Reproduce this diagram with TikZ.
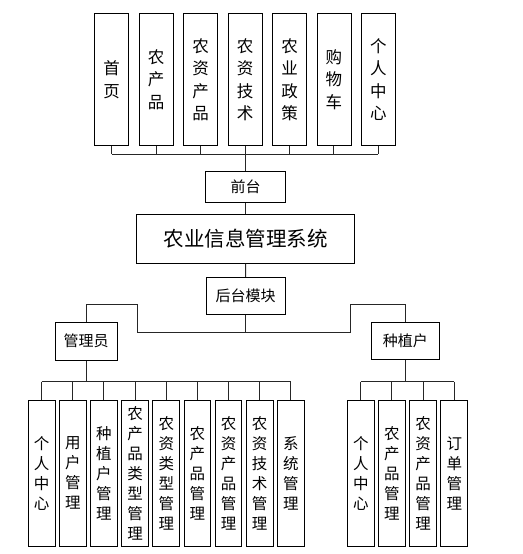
\documentclass[tikz,border=0pt]{standalone}
\usepackage{fontspec}
\setmainfont{Noto Sans CJK SC}
\begin{document}
\begin{tikzpicture}[x=1pt,y=-1pt,
  box/.style={draw=black,line width=0.9pt,inner sep=0pt,align=center,fill=white},
  topbox/.style={box,minimum width=34pt,minimum height=132.5pt,font=\fontsize{16.5}{22.5}\selectfont},
  lowbox/.style={box,minimum width=26.7pt,minimum height=146.7pt,font=\fontsize{15.5}{20}\selectfont},
  midbox/.style={box,font=\fontsize{15}{18}\selectfont},
  conn/.style={draw=black!85,line width=1pt}]
\useasboundingbox (0,0) rectangle (522,554);
% top row
\foreach \n/\t [count=\i from 0] in {t1/首\\页,t2/农\\产\\品,t3/农\\资\\产\\品,t4/农\\资\\技\\术,t5/农\\业\\政\\策,t6/购\\物\\车,t7/个\\人\\中\\心}
  \node[topbox] (\n) at ({111.7+44.45*\i},79.5) {\t};
\node[midbox,minimum width=79.6pt,minimum height=31pt] (front) at (245.5,186.8) {前台};
\node[box,minimum width=217.6pt,minimum height=48.6pt,font=\fontsize{20.5}{24}\selectfont] (sys) at (245.5,239) {农业信息管理系统};
\node[midbox,minimum width=79.3pt,minimum height=37pt] (back) at (245.6,295.8) {后台模块};
\node[midbox,minimum width=62.3pt,minimum height=37.7pt] (admin) at (86.2,341.2) {管理员};
\node[midbox,minimum width=67.3pt,minimum height=37pt] (farmer) at (405.4,340.8) {种植户};
% admin children
\foreach \n/\t [count=\i from 0] in {a1/个\\人\\中\\心,a2/用\\户\\管\\理,a3/种\\植\\户\\管\\理,a4/农\\产\\品\\类\\型\\管\\理,a5/农\\资\\类\\型\\管\\理,a6/农\\产\\品\\管\\理,a7/农\\资\\产\\品\\管\\理,a8/农\\资\\技\\术\\管\\理,a9/系\\统\\管\\理}
  \node[lowbox] (\n) at ({41.7+31.14*\i},473.3) {\t};
% farmer children
\foreach \n/\t [count=\i from 0] in {f1/个\\人\\中\\心,f2/农\\产\\品\\管\\理,f3/农\\资\\产\\品\\管\\理,f4/订\\单\\管\\理}
  \node[lowbox] (\n) at ({360.8+31.15*\i},473.3) {\t};
% coordinates
\coordinate (tbus) at (245.5,154.3);
\coordinate (bbus) at (245.6,332.7);
\coordinate (bl) at (137.5,332.7);
\coordinate (br) at (350.3,332.7);
\coordinate (blu) at (137.5,304);
\coordinate (bru) at (350.3,304);
\coordinate (abus) at (86.2,381.7);
\coordinate (fbus) at (405.4,381.7);
% top connectors
\foreach \n in {t1,t2,t3,t4,t5,t6,t7}
  \draw[conn] (\n.south) -- (\n.south |- tbus);
\draw[conn] (t1.south |- tbus) -- (t7.south |- tbus);
\draw[conn] (tbus) -- (front.north);
\draw[conn] (front.south) -- (sys.north);
\draw[conn] (sys.south) -- (back.north);
\draw[conn] (back.south) -- (bbus);
\draw[conn] (bl) -- (br);
\draw[conn] (bl) -- (blu) -| (admin.north);
\draw[conn] (br) -- (bru) -| (farmer.north);
% admin connectors
\draw[conn] (admin.south) -- (abus);
\draw[conn] (a1.north |- abus) -- (a9.north |- abus);
\foreach \n in {a1,a2,a3,a4,a5,a6,a7,a8,a9}
  \draw[conn] (\n.north |- abus) -- (\n.north);
% farmer connectors
\draw[conn] (farmer.south) -- (fbus);
\draw[conn] (f1.north |- fbus) -- (f4.north |- fbus);
\foreach \n in {f1,f2,f3,f4}
  \draw[conn] (\n.north |- fbus) -- (\n.north);
\end{tikzpicture}
\end{document}
